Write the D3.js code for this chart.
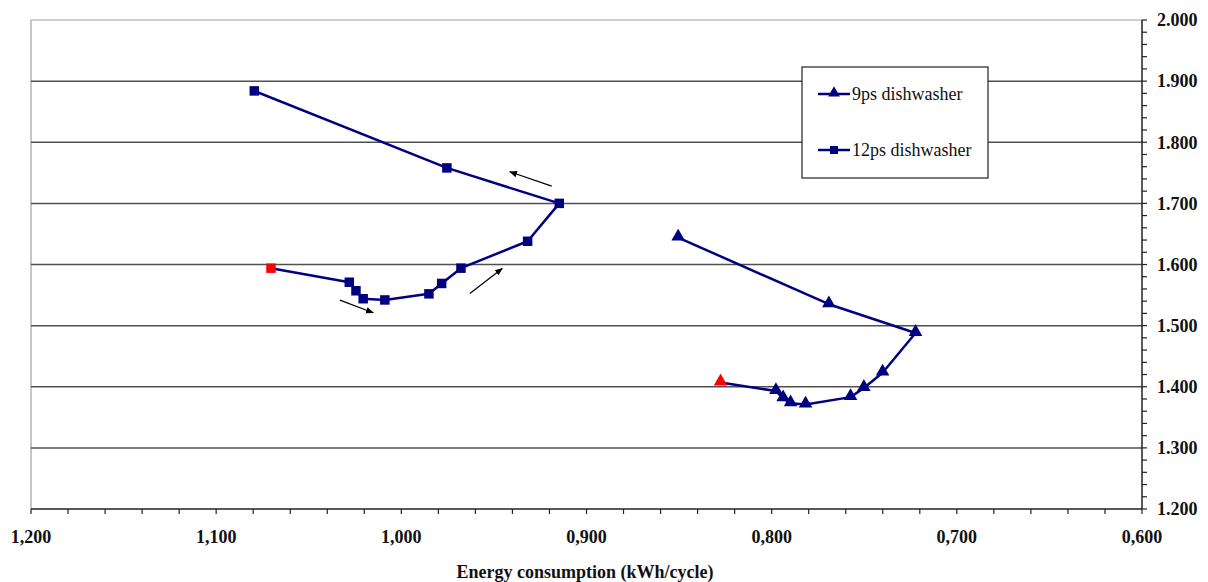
<!DOCTYPE html>
<html><head><meta charset="utf-8">
<script src="https://cdn.jsdelivr.net/npm/d3@7"></script>
<style>body{margin:0;background:#fff}svg{display:block}
text{font-family:"Liberation Serif","DejaVu Serif",serif}</style>
</head><body><svg id="c" width="1208" height="582"></svg>
<script>
// ---- data ----
const series12Energy = [1.0704, 1.0281, 1.0245, 1.0206, 1.0089, 0.9851, 0.9782, 0.9678, 0.9318, 0.9147, 0.9754, 1.0794];
const series12Water  = [1.594, 1.571, 1.557, 1.544, 1.542, 1.552, 1.569, 1.594, 1.638, 1.700, 1.758, 1.884];
const series9Energy  = [0.8276, 0.7977, 0.7938, 0.7898, 0.7817, 0.7574, 0.7502, 0.7401, 0.7223, 0.7691, 0.8505];
const series9Water   = [1.407, 1.393, 1.381, 1.373, 1.371, 1.383, 1.398, 1.423, 1.488, 1.535, 1.644];
const seriesNames = ["9ps dishwasher", "12ps dishwasher"];
const xTickValues = [1.2, 1.1, 1.0, 0.9, 0.8, 0.7, 0.6];
const yTickValues = [1.2, 1.3, 1.4, 1.5, 1.6, 1.7, 1.8, 1.9, 2.0];
const xAxisTitle = "Energy consumption (kWh/cycle)";
// direction arrows (data units): [x1, y1, x2, y2]
const arrows = [
  [0.9188, 1.7283, 0.9414, 1.7517],
  [0.9630, 1.5527, 0.9455, 1.5936],
  [1.0332, 1.5417, 1.0152, 1.5210]
];

// ---- layout ----
const L = 31, R = 1142, T = 20, B = 509;
const navy = "#000080", red = "#ff0000";
const svg = d3.select("#c");
const x = d3.scaleLinear().domain([1.2, 0.6]).range([L, R]);
const y = d3.scaleLinear().domain([1.2, 2.0]).range([B, T]);
const commaLoc = d3.formatLocale({decimal: ",", thousands: ".", grouping: [3], currency: ["", ""]});
const fx = commaLoc.format(".3f");
const fy = d3.format(".3f");

const defs = svg.append("defs");
defs.append("marker").attr("id","ah").attr("viewBox","0 0 10 10").attr("refX",9).attr("refY",5)
  .attr("markerWidth",8).attr("markerHeight",8).attr("markerUnits","userSpaceOnUse").attr("orient","auto")
  .append("path").attr("d","M0,1 L10,5 L0,9 Z").attr("fill","#000");

// frame: top & left borders
svg.append("line").attr("x1",L).attr("x2",R).attr("y1",T).attr("y2",T).attr("stroke","#a0a0a0").attr("stroke-width",1.2);
svg.append("line").attr("x1",L).attr("x2",L).attr("y1",T).attr("y2",B).attr("stroke","#a0a0a0").attr("stroke-width",1.2);

// gridlines
svg.append("g").selectAll("line").data(yTickValues.filter(v => v > 1.2 && v < 2.0)).join("line")
  .attr("x1",L).attr("x2",R).attr("y1",d=>y(d)).attr("y2",d=>y(d))
  .attr("stroke","#505050").attr("stroke-width",1.5);

// x axis
const minorX = d3.range(0, 31).map(i => 1.2 - i*0.02);
const gx = svg.append("g").attr("transform",`translate(0,${B})`);
gx.append("line").attr("x1",L).attr("x2",R).attr("stroke","#222").attr("stroke-width",1.5);
gx.selectAll("line.mt").data(minorX).join("line").attr("class","mt")
  .attr("x1",d=>x(d)).attr("x2",d=>x(d)).attr("y1",0).attr("y2",5).attr("stroke","#222").attr("stroke-width",1.2);
gx.selectAll("text").data(xTickValues).join("text")
  .attr("x",d=>x(d)).attr("y",34).attr("text-anchor","middle")
  .attr("font-weight","bold").attr("font-size",18).attr("fill","#111")
  .text(d=>fx(d));
svg.append("text").attr("x",585).attr("y",578).attr("text-anchor","middle")
  .attr("font-weight","bold").attr("font-size",18).attr("fill","#111")
  .text(xAxisTitle);

// y axis (right)
const minorY = d3.range(0, 41).map(i => 1.2 + i*0.02);
const gy = svg.append("g").attr("transform",`translate(${R},0)`);
gy.append("line").attr("y1",T).attr("y2",B).attr("stroke","#222").attr("stroke-width",1.5);
gy.selectAll("line.mt").data(minorY).join("line").attr("class","mt")
  .attr("x1",0).attr("x2",5).attr("y1",d=>y(d)).attr("y2",d=>y(d)).attr("stroke","#222").attr("stroke-width",1.2);
gy.selectAll("text").data(yTickValues).join("text")
  .attr("x",15).attr("y",d=>y(d)).attr("dy","0.35em")
  .attr("font-weight","bold").attr("font-size",18).attr("fill","#111")
  .text(d=>fy(d));

// series
const line = d3.line().x(d=>x(d[0])).y(d=>y(d[1]));
const s12 = series12Energy.map((v,i)=>[v, series12Water[i]]);
const s9 = series9Energy.map((v,i)=>[v, series9Water[i]]);
[s12, s9].forEach(s => svg.append("path").datum(s).attr("d",line)
  .attr("fill","none").attr("stroke",navy).attr("stroke-width",2.5).attr("stroke-linejoin","round"));

const sq = d3.symbol().type(d3.symbolSquare).size(90);
const tri = d3.symbol().type(d3.symbolTriangle).size(80);
svg.append("g").selectAll("path").data(s12).join("path")
  .attr("transform",d=>`translate(${x(d[0])},${y(d[1])})`).attr("d",sq)
  .attr("fill",(d,i)=>i===0?red:navy);
svg.append("g").selectAll("path").data(s9).join("path")
  .attr("transform",d=>`translate(${x(d[0])},${y(d[1])-1})`).attr("d",tri)
  .attr("fill",(d,i)=>i===0?red:navy);

// arrows
svg.append("g").selectAll("line").data(arrows).join("line")
  .attr("x1",d=>x(d[0])).attr("y1",d=>y(d[1])).attr("x2",d=>x(d[2])).attr("y2",d=>y(d[3]))
  .attr("stroke","#000").attr("stroke-width",1.2).attr("marker-end","url(#ah)");

// legend
const lg = svg.append("g").attr("transform","translate(802,67)");
lg.append("rect").attr("width",186).attr("height",111).attr("fill","#fff").attr("stroke","#222").attr("stroke-width",1.2);
seriesNames.forEach((name,i) => {
  const yy = 27 + i*56;
  lg.append("line").attr("x1",16).attr("x2",48).attr("y1",yy).attr("y2",yy).attr("stroke",navy).attr("stroke-width",2.5);
  lg.append("path").attr("transform",`translate(32,${yy - (i===0?1:0)})`)
    .attr("d",i===0?d3.symbol().type(d3.symbolTriangle).size(60)():d3.symbol().type(d3.symbolSquare).size(64)()).attr("fill",navy);
  lg.append("text").attr("x",50).attr("y",yy).attr("dy","0.35em")
    .attr("font-size",18).attr("fill","#111").text(name);
});
</script></body></html>
